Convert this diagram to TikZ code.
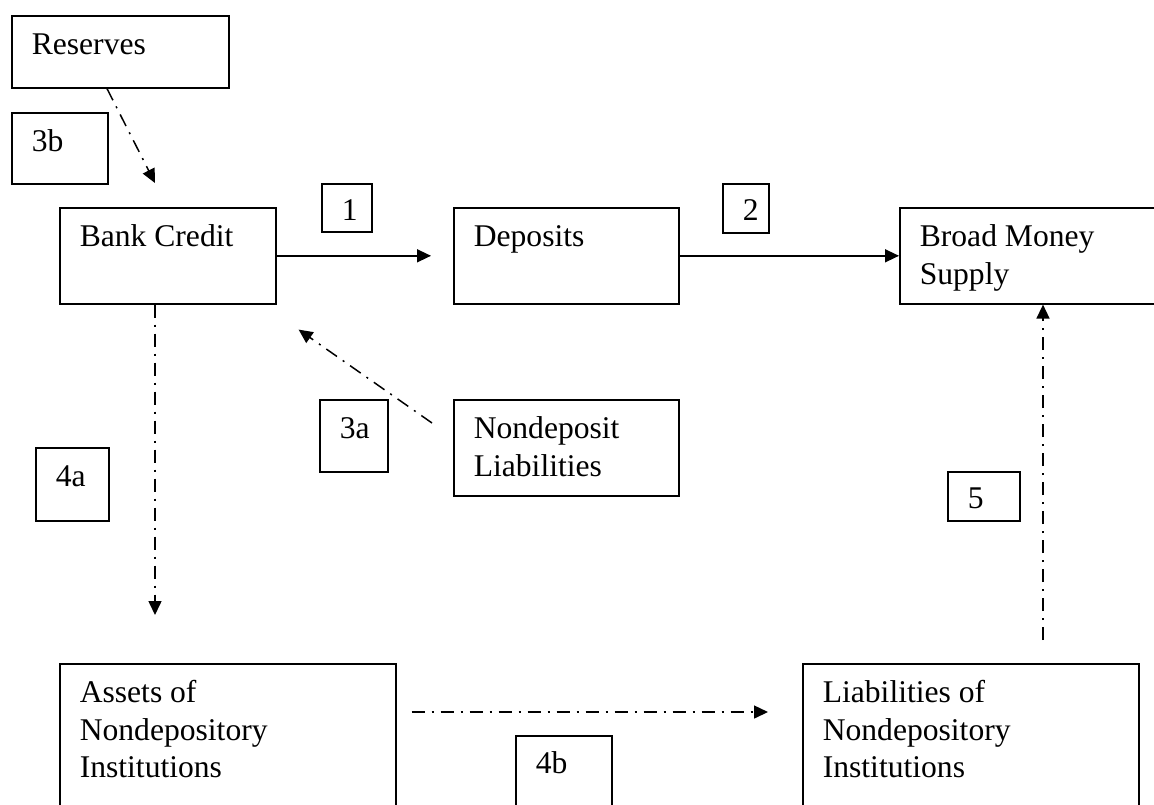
\documentclass[tikz,border=0pt]{standalone}
\usepackage{fontspec}
\setmainfont{Liberation Serif}
\usetikzlibrary{arrows.meta}
% text set at the top left of a box: [first baseline]{width}{height}{text}
\newcommand{\boxtext}[4][19.5pt]{\parbox[b][#3][t]{#2}{\raggedright\leftskip=10pt\rule{0pt}{#1}#4}}

\begin{document}
\begin{tikzpicture}[x=0.5pt,y=-0.5pt,
  every node/.style={font=\fontsize{15.8}{18.75}\selectfont},
  box/.style={draw,line width=0.8pt,inner sep=0pt,anchor=north west},
  flow/.style={line width=0.75pt,-{Triangle[length=7pt,width=6.5pt]}},
  dashdot/.style={flow,dash pattern=on 6.5pt off 3.5pt on 1pt off 3.5pt}]
\useasboundingbox (0,0) rectangle (1154,804);
\clip (0,0) rectangle (1154,804);
% boxes
\node[box] (res) at (11,15) {\boxtext{108.5pt}{36pt}{Reserves}};
\node[box] (lbl3b) at (11,112) {\boxtext{48pt}{35.5pt}{3b}};
\node[box] (bank) at (59,207) {\boxtext{108pt}{48pt}{Bank Credit}};
\node[box] (lbl1) at (321,183) {\boxtext[18.5pt]{25pt}{24pt}{1}};
\node[box] (dep) at (453,207) {\boxtext{112.5pt}{48pt}{Deposits}};
\node[box] (lbl2) at (722,183) {\boxtext[18.5pt]{23pt}{24.5pt}{2}};
\node[box] (broad) at (899,207) {\boxtext{140pt}{48pt}{Broad Money\\Supply}};
\node[box] (nondep) at (453,399) {\boxtext{112.5pt}{48pt}{Nondeposit\\Liabilities}};
\node[box] (lbl3a) at (319,399) {\boxtext{34pt}{36pt}{3a}};
\node[box] (lbl4a) at (35,447) {\boxtext{36.5pt}{36.5pt}{4a}};
\node[box] (lbl5) at (947,471) {\boxtext[18.5pt]{36pt}{24.5pt}{5}};
\node[box] (assets) at (59,663) {\boxtext{168pt}{85pt}{Assets of\\Nondepository\\Institutions}};
\node[box] (lbl4b) at (515,735) {\boxtext[19pt]{48pt}{40pt}{4b}};
\node[box] (liab) at (802,663) {\boxtext{168pt}{85pt}{Liabilities of\\Nondepository\\Institutions}};
% connectors
\draw[flow] (bank.east) -- ([xshift=-11pt]dep.west);
\draw[flow] (dep.east) -- (broad.west);
\draw[dashdot] ([xshift=48pt]res.south west) -- ([xshift=48pt,yshift=12pt]bank.north west);
\draw[dashdot] ([xshift=48pt]bank.south west) -- ([xshift=48pt,yshift=24pt]assets.north west);
\draw[dashdot] ([xshift=-10.5pt,yshift=-12pt]nondep.north west) -- ([xshift=11pt,yshift=-12.5pt]bank.south east);
\draw[dashdot] ([xshift=7.5pt,yshift=-24.5pt]assets.north east) -- ([xshift=-17pt,yshift=-24.5pt]liab.north west);
\draw[dashdot] ([xshift=120.5pt,yshift=11.5pt]liab.north west) -- ([xshift=72pt]broad.south west);
\end{tikzpicture}
\end{document}
